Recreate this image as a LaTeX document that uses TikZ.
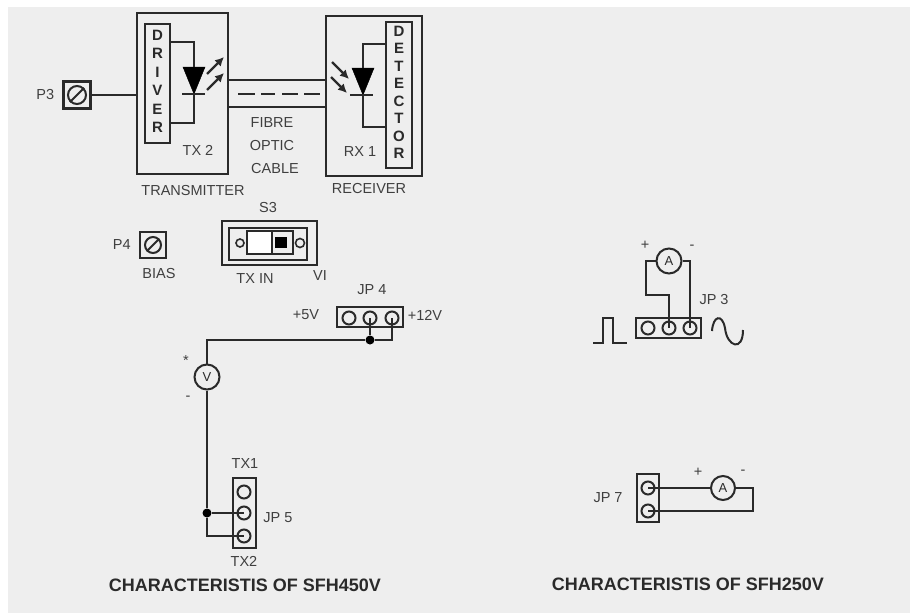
\documentclass[tikz,border=0pt]{standalone}
\usepackage{fontspec}
\setmainfont{Liberation Sans}
\usepackage{tikz}
\usetikzlibrary{positioning}
\usetikzlibrary{arrows.meta}
\definecolor{panelgrey}{HTML}{EEEEEE}
\definecolor{inkgrey}{HTML}{2A2A2A}
\tikzset{
	frame/.style={draw=inkgrey, line width=2.3pt, inner sep=0pt},
	wire/.style={draw=inkgrey, line width=2pt},
	terminal/.style={circle, draw=inkgrey, line width=2pt, inner sep=0pt, minimum size=13pt},
	meter/.style={circle, draw=inkgrey, line width=2pt, inner sep=0pt, minimum size=25pt, font=\fontsize{13}{13}\selectfont, text=inkgrey},
	screw/.style={circle, draw=inkgrey, line width=2pt, inner sep=0pt, minimum size=18pt},
	tag/.style={text=inkgrey!90, inner sep=0pt, font=\fontsize{14.5}{14.5}\selectfont},
	heading/.style={text=inkgrey, inner sep=0pt, font=\fontsize{18}{18}\selectfont\bfseries},
	upright/.style={text=inkgrey, inner sep=0pt, align=center, font=\fontsize{15}{#1}\selectfont\bfseries},
	diode/.style={fill=black, draw=black, line width=.5pt},
	light/.style={draw=inkgrey, line width=2.2pt, -{Latex[length=9pt,width=9pt]}},
	jdot/.style={circle, fill=black, inner sep=0pt, minimum size=9pt}
}
\begin{document}
\begin{tikzpicture}[x=1pt, y=-1pt]
\useasboundingbox (0,0) rectangle (910,613);
\fill[panelgrey] (8,7) rectangle (910,613);

%transmitter
\node [frame, minimum width=91pt, minimum height=161pt] (Transmitter) at (182.5,93.5) {};
\node [frame, fill=panelgrey, minimum width=25pt, minimum height=119pt] (Driver) at (157.5,83.5) {};
\node [upright=18.5pt, below=7pt of Driver.north] (DriverText) {D\\R\\I\\V\\E\\R};
\coordinate (TxTop) at (194,67);
\coordinate (TxTip) at (194,94);
\fill [diode] (183,67) -- (205,67) -- (TxTip) -- cycle;
\draw [wire] (182,94) -- (205,94);
\draw [wire] (Driver.east |- 0,42) -| (TxTop);
\draw [wire] (Driver.east |- 0,123) -| (TxTip);
\draw [light] (207,74) -- (224,57);
\draw [light] (207,90) -- (224,73);
\node [tag] (TxTwo) at (198,150) {TX 2};
\node [tag] (TransmitterText) at (193,191) {TRANSMITTER};

%receiver
\node [frame, minimum width=96pt, minimum height=160pt] (Receiver) at (374,96) {};
\node [frame, fill=panelgrey, minimum width=26pt, minimum height=146pt] (Detector) at (399,95) {};
\node [upright=17.5pt, below=5pt of Detector.north] (DetectorText) {D\\E\\T\\E\\C\\T\\O\\R};
\coordinate (RxTop) at (363,68);
\coordinate (RxTip) at (363,95);
\fill [diode] (352,68) -- (374,68) -- (RxTip) -- cycle;
\draw [wire] (350,95) -- (373,95);
\draw [wire] (Detector.west |- 0,44) -| (RxTop);
\draw [wire] (Detector.west |- 0,127) -| (RxTip);
\draw [light] (332,62) -- (349,79);
\draw [light] (331,77) -- (347,93);
\node [tag] (RxOne) at (360,152) {RX 1};
\node [tag] (ReceiverText) at (369,189) {RECEIVER};

%fibre
\draw [wire] (Transmitter.east |- 0,80) -- (Receiver.west |- 0,80);
\draw [wire] (Transmitter.east |- 0,107) -- (Receiver.west |- 0,107);
\draw [wire, line width=2.6pt] (238,94) -- (255,94) (261,94) -- (275,94) (282,94) -- (298,94) (304,94) -- (320,94);
\node [tag] (Fibre) at (272,123) {FIBRE};
\node [tag] (Optic) at (272,146) {OPTIC};
\node [tag] (Cable) at (275,169) {CABLE};

%P3 and P4
\node [frame, minimum size=27pt] (PThree) at (77,95) {};
\node [screw] (PThreeScrew) at (PThree) {};
\draw [wire] (PThreeScrew.south west) -- (PThreeScrew.north east);
\draw [wire] (PThree.east) -- (Transmitter.west |- PThree);
\node [tag, left=8pt of PThree] (PThreeText) {P3};
\node [frame, minimum size=26pt] (PFour) at (153,245) {};
\node [screw, minimum size=16pt] (PFourScrew) at (PFour) {};
\draw [wire] (PFourScrew.south west) -- (PFourScrew.north east);
\node [tag, left=8pt of PFour] (PFourText) {P4};
\node [tag] (Bias) at (159,274) {BIAS};

%S3
\node [frame, minimum width=95pt, minimum height=44pt] (SThree) at (269.5,243) {};
\node [frame, minimum width=78pt, minimum height=32pt] (SThreeIn) at (268,244) {};
\fill [white] (247,231) rectangle (272,254);
\node [frame, minimum width=46pt, minimum height=23pt] (Slider) at (270,242.5) {};
\draw [wire] (272,231) -- (272,254);
\fill [black] (275,237) rectangle (287,248);
\node [circle, draw=inkgrey, line width=1.6pt, minimum size=8pt, inner sep=0pt] (SLeft) at (240,243) {};
\node [circle, draw=inkgrey, line width=1.6pt, minimum size=9pt, inner sep=0pt] (SRight) at (300,243) {};
\node [tag] (SThreeText) at (268,208) {S3};
\node [tag] (TxIn) at (255,279) {TX IN};
\node [tag] (Vi) at (320,276) {VI};

%JP4 and voltmeter
\node [frame, line width=2.8pt, minimum width=66pt, minimum height=20pt] (JPFour) at (370,317) {};
\node [terminal] (JFourA) at (349,318) {};
\node [terminal] (JFourB) at (370,318) {};
\node [terminal] (JFourC) at (392,318) {};
\node [tag] (JPFourText) at (372,290) {JP 4};
\node [tag] (FiveV) at (306,315) {+5V};
\node [tag] (TwelveV) at (425,315) {+12V};
\node [meter] (VMeter) at (207,377) {V};
\node [tag] (VPlus) at (186,361) {*};
\node [tag] (VMinus) at (188,398) {-};
\node [jdot] (JFourDot) at (370,340) {};
\draw [wire] (VMeter) -- (207,340) -- (JFourDot);
\draw [wire] (JFourB.center) -- (JFourDot);
\draw [wire] (JFourC.center) -- (392,340) -- (JFourDot);

%JP5
\node [frame, minimum width=23pt, minimum height=70pt] (JPFive) at (244.5,513) {};
\node [terminal] (JFiveA) at (244,492) {};
\node [terminal] (JFiveB) at (244,513) {};
\node [terminal] (JFiveC) at (244,536) {};
\node [tag] (TxOneText) at (245,464) {TX1};
\node [tag] (TxTwoText) at (244,561) {TX2};
\node [tag] (JPFiveText) at (278,518) {JP 5};
\node [jdot] (JFiveDot) at (207,513) {};
\draw [wire] (VMeter) -- (JFiveDot);
\draw [wire] (JFiveDot) -- (JFiveB.center);
\draw [wire] (JFiveDot) -- (207,536) -- (JFiveC.center);

%JP3
\node [frame, line width=2.8pt, minimum width=65pt, minimum height=20pt] (JPThree) at (668.5,328) {};
\node [terminal] (JThreeA) at (648,328) {};
\node [terminal] (JThreeB) at (669,328) {};
\node [terminal] (JThreeC) at (690,328) {};
\node [meter] (AThree) at (669,261) {A};
\node [tag] (AThreePlus) at (645,245) {+};
\node [tag] (AThreeMinus) at (692,247) {-};
\node [tag] (JPThreeText) at (714,300) {JP 3};
\draw [wire] (AThree) -- (646,261) -- (646,295) -- (669,295) -- (JThreeB.center);
\draw [wire] (AThree) -- (690,261) -- (JThreeC.center);
\draw [wire] (593,343) -- (603,343) -- (603,318) -- (613,318) -- (613,343) -- (627,343);
\draw [wire] (712,331) .. controls (713,316) and (722,313) .. (725,328) .. controls (727,347) and (743,352) .. (743,330);

%JP7
\node [frame, line width=2.6pt, minimum width=22pt, minimum height=48pt] (JPSeven) at (648,498) {};
\node [terminal] (JSevenA) at (648,488) {};
\node [terminal] (JSevenB) at (648,511) {};
\node [meter, minimum size=24pt] (ASeven) at (723,488) {A};
\node [tag] (ASevenPlus) at (698,472) {+};
\node [tag] (ASevenMinus) at (743,472) {-};
\node [tag] (JPSevenText) at (608,498) {JP 7};
\draw [wire] (JSevenA.center) -- (ASeven);
\draw [wire] (ASeven) -- (753,488) -- (753,511) -- (JSevenB.center);

\node [heading] (TitleLeft) at (245,585) {CHARACTERISTIS OF SFH450V};
\node [heading] (TitleRight) at (688,584) {CHARACTERISTIS OF SFH250V};

\end{tikzpicture}
\end{document}
